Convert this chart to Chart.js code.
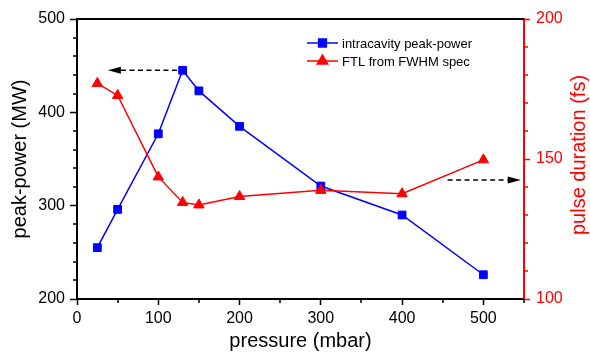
<!DOCTYPE html>
<html>
<head>
<meta charset="utf-8">
<script src="https://cdn.jsdelivr.net/npm/chart.js@4/dist/chart.umd.min.js"></script>
<style>
  html, body { margin: 0; padding: 0; background: #fff; }
  #wrap { width: 590px; height: 354px; }
</style>
</head>
<body>
<div id="wrap"><canvas id="chart" width="590" height="354"></canvas></div>
<script>
// Pressure scan: intracavity peak power vs. transform-limited pulse duration

const pressure = [25, 50, 100, 130, 150, 200, 300, 400, 500];
const peakPower = [255, 296, 377, 445, 423, 385, 321, 290, 226];
const pulseDuration = [177, 172.7, 143.6, 134.5, 133.6, 136.6, 138.8, 137.6, 149.7];

const seriesNames = ['intracavity peak-power', 'FTL from FWHM spec'];

const xTicks = [0, 100, 200, 300, 400, 500];
const xMinorTicks = [50, 150, 250, 350, 450, 550];
const powerTicks = [200, 300, 400, 500];
const powerMinorTicks = [220, 240, 260, 280, 320, 340, 360, 380, 420, 440, 460, 480];
const durationTicks = [100, 150, 200];
const durationMinorTicks = [110, 120, 130, 140, 160, 170, 180, 190];

// dashed arrows pointing each series to its axis (data units)
const arrows = [
    { axis: 'y', from: [123, 445], to: [38, 445] },
    { axis: 'y1', from: [456, 142.5], to: [546, 142.5] }
];

const BLUE = '#0000ff';
const RED = '#ff0000';
const FONT = "'Liberation Sans', Arial, sans-serif";

Chart.defaults.font.family = FONT;

function toPoints(ys) {
    return pressure.map((x, i) => ({ x: x, y: ys[i] }));
}

// extra drawing: frame top, minor ticks, right title, legend, arrows
const extrasPlugin = {
    id: 'extras',
    afterDraw(chart) {
        const ctx = chart.ctx;
        const area = chart.chartArea;
        const sx = chart.scales.x;
        const sy = chart.scales.y;
        const sy1 = chart.scales.y1;

        ctx.save();

        // top frame line
        ctx.strokeStyle = '#000';
        ctx.lineWidth = 2;
        ctx.beginPath();
        ctx.moveTo(area.left - 1, area.top);
        ctx.lineTo(area.right, area.top);
        ctx.stroke();

        // minor ticks
        ctx.lineWidth = 1.5;
        ctx.beginPath();
        xMinorTicks.forEach(v => {
            const px = Math.round(sx.getPixelForValue(v));
            ctx.moveTo(px, area.bottom);
            ctx.lineTo(px, area.bottom + 4);
        });
        powerMinorTicks.forEach(v => {
            const py = Math.round(sy.getPixelForValue(v));
            ctx.moveTo(area.left, py);
            ctx.lineTo(area.left - 4, py);
        });
        ctx.stroke();

        ctx.strokeStyle = RED;
        ctx.beginPath();
        durationMinorTicks.forEach(v => {
            const py = Math.round(sy1.getPixelForValue(v));
            ctx.moveTo(area.right, py);
            ctx.lineTo(area.right + 4, py);
        });
        ctx.stroke();

        // right axis title, reading bottom to top
        ctx.fillStyle = RED;
        ctx.font = '20px ' + FONT;
        ctx.textAlign = 'center';
        ctx.textBaseline = 'middle';
        ctx.translate(579, (area.top + area.bottom) / 2 - 4);
        ctx.rotate(-Math.PI / 2);
        ctx.fillText('pulse duration (fs)', 0, 0);
        ctx.setTransform(1, 0, 0, 1, 0, 0);

        // legend
        ctx.font = '13px ' + FONT;
        ctx.textAlign = 'left';
        chart.data.datasets.forEach((ds, i) => {
            const y = 43 + i * 18;
            ctx.strokeStyle = ds.borderColor;
            ctx.fillStyle = ds.backgroundColor;
            ctx.lineWidth = 1.5;
            ctx.beginPath();
            ctx.moveTo(307, y);
            ctx.lineTo(338, y);
            ctx.stroke();
            Chart.helpers.drawPoint(ctx, {
                pointStyle: ds.pointStyle,
                radius: ds.pointRadius,
                rotation: 0,
                borderWidth: 1
            }, 322.5, y);
            ctx.fillStyle = '#000';
            ctx.fillText(ds.label, 342, y + 1);
        });

        // dashed arrows
        arrows.forEach(a => {
            const ys = chart.scales[a.axis];
            const x0 = sx.getPixelForValue(a.from[0]);
            const x1 = sx.getPixelForValue(a.to[0]);
            const y = ys.getPixelForValue(a.from[1]);
            const dir = Math.sign(x1 - x0);
            const headLen = 13;
            ctx.strokeStyle = '#000';
            ctx.fillStyle = '#000';
            ctx.lineWidth = 1.5;
            ctx.setLineDash([5, 3.5]);
            ctx.beginPath();
            ctx.moveTo(x0, y);
            ctx.lineTo(x1 - dir * headLen, y);
            ctx.stroke();
            ctx.setLineDash([]);
            ctx.beginPath();
            ctx.moveTo(x1, y);
            ctx.lineTo(x1 - dir * headLen, y - 3.5);
            ctx.lineTo(x1 - dir * headLen, y + 3.5);
            ctx.closePath();
            ctx.fill();
        });

        ctx.restore();
    }
};

new Chart(document.getElementById('chart'), {
    type: 'line',
    data: {
        datasets: [
            {
                label: seriesNames[0],
                data: toPoints(peakPower),
                borderColor: BLUE,
                backgroundColor: BLUE,
                borderWidth: 1.5,
                pointStyle: 'rect',
                pointRadius: 5.5,
                pointBorderWidth: 1,
                tension: 0,
                yAxisID: 'y',
                order: 1
            },
            {
                label: seriesNames[1],
                data: toPoints(pulseDuration),
                borderColor: RED,
                backgroundColor: RED,
                borderWidth: 1.5,
                pointStyle: 'triangle',
                pointRadius: 6,
                pointBorderWidth: 1,
                tension: 0,
                yAxisID: 'y1',
                order: 0
            }
        ]
    },
    options: {
        responsive: false,
        animation: false,
        layout: { padding: { top: 19, left: 0, right: 0, bottom: 0 } },
        plugins: {
            legend: { display: false },
            tooltip: { enabled: false }
        },
        scales: {
            x: {
                type: 'linear',
                min: 0,
                max: 550,
                afterBuildTicks: s => { s.ticks = xTicks.map(v => ({ value: v })); },
                afterFit: s => { s.height = 55; },
                grid: { drawOnChartArea: false, tickLength: 6, tickWidth: 1.5, tickColor: '#000' },
                border: { color: '#000', width: 2 },
                ticks: { color: '#000', font: { size: 16 }, padding: 4, maxRotation: 0 },
                title: {
                    display: true,
                    text: 'pressure (mbar)',
                    color: '#000',
                    font: { size: 20 },
                    padding: { top: 0, bottom: 1 }
                }
            },
            y: {
                position: 'left',
                min: 200,
                max: 500,
                afterBuildTicks: s => { s.ticks = powerTicks.map(v => ({ value: v })); },
                afterFit: s => { s.width = 77; },
                grid: { drawOnChartArea: false, tickLength: 7, tickWidth: 1.5, tickColor: '#000' },
                border: { color: '#000', width: 2 },
                ticks: { color: '#000', font: { size: 16 }, padding: 5 },
                title: {
                    display: true,
                    text: 'peak-power (MW)',
                    color: '#000',
                    font: { size: 20 },
                    padding: { top: 8, bottom: 0 }
                }
            },
            y1: {
                position: 'right',
                min: 100,
                max: 200,
                afterBuildTicks: s => { s.ticks = durationTicks.map(v => ({ value: v })); },
                afterFit: s => { s.width = 66; },
                grid: { drawOnChartArea: false, tickLength: 6, tickWidth: 1.5, tickColor: RED },
                border: { color: RED, width: 2 },
                ticks: { color: RED, font: { size: 16 }, padding: 6 }
            }
        }
    },
    plugins: [extrasPlugin]
});
</script>
</body>
</html>
